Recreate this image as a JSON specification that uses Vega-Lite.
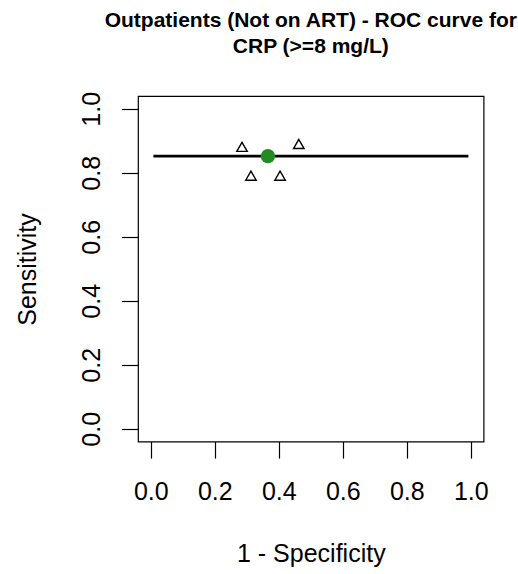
{
  "$schema": "https://vega.github.io/schema/vega-lite/v6.json",
  "autosize": {"type": "none"},
  "padding": {"left": 138, "top": 96, "right": 34.4, "bottom": 132.4},
  "width": 345.6,
  "height": 345.6,
  "background": "white",
  "config": {
    "view": {"stroke": "black", "strokeWidth": 1.2},
    "font": "Liberation Sans",
    "axis": {"grid": false, "domain": false, "tickColor": "black", "tickWidth": 1.2, "tickSize": 16.5,
      "labelColor": "black", "labelFont": "Liberation Sans", "labelFontSize": 25,
      "titleColor": "black", "titleFont": "Liberation Sans", "titleFontSize": 25, "titleFontWeight": "normal"}
  },
  "title": {
    "text": ["Outpatients (Not on ART) - ROC curve for", "CRP (>=8 mg/L)"],
    "font": "Liberation Sans", "fontSize": 21, "fontWeight": "bold", "color": "black",
    "anchor": "middle", "lineHeight": 26.5, "offset": 34
  },
  "datasets": {
    "roc": [{"fpr": 0.008, "sens": 0.852}, {"fpr": 0.9925, "sens": 0.852}],
    "opt": [{"fpr": 0.366, "sens": 0.852}],
    "ci": [
      {"fpr": 0.285, "sens": 0.881},
      {"fpr": 0.4625, "sens": 0.89},
      {"fpr": 0.313, "sens": 0.791},
      {"fpr": 0.404, "sens": 0.791}
    ]
  },
  "encoding": {
    "x": {"field": "fpr", "type": "quantitative",
      "scale": {"domain": [-0.04, 1.04], "nice": false, "zero": false},
      "axis": {"values": [0, 0.2, 0.4, 0.6, 0.8, 1.0], "format": ".1f", "labelPadding": 21,
        "title": "1 - Specificity", "titleBaseline": "alphabetic", "titleX": 172.8, "titleY": 120.3, "titleAnchor": "middle"}},
    "y": {"field": "sens", "type": "quantitative",
      "scale": {"domain": [-0.04, 1.04], "nice": false, "zero": false},
      "axis": {"values": [0, 0.2, 0.4, 0.6, 0.8, 1.0], "format": ".1f", "labelAngle": 270, "labelAlign": "center", "labelBaseline": "alphabetic", "labelPadding": 21.7,
        "title": "Sensitivity", "titleAngle": 270, "titleBaseline": "alphabetic", "titleX": -102.7, "titleY": 173, "titleAlign": "center"}}
  },
  "layer": [
    {"data": {"name": "roc"}, "mark": {"type": "line", "color": "black", "strokeWidth": 2.7}},
    {"data": {"name": "ci"}, "mark": {"type": "point", "shape": "triangle-up", "filled": false, "stroke": "black", "strokeWidth": 1.4, "size": 110, "opacity": 1}},
    {"data": {"name": "opt"}, "mark": {"type": "circle", "color": "#228B22", "size": 205, "opacity": 1}}
  ]
}
